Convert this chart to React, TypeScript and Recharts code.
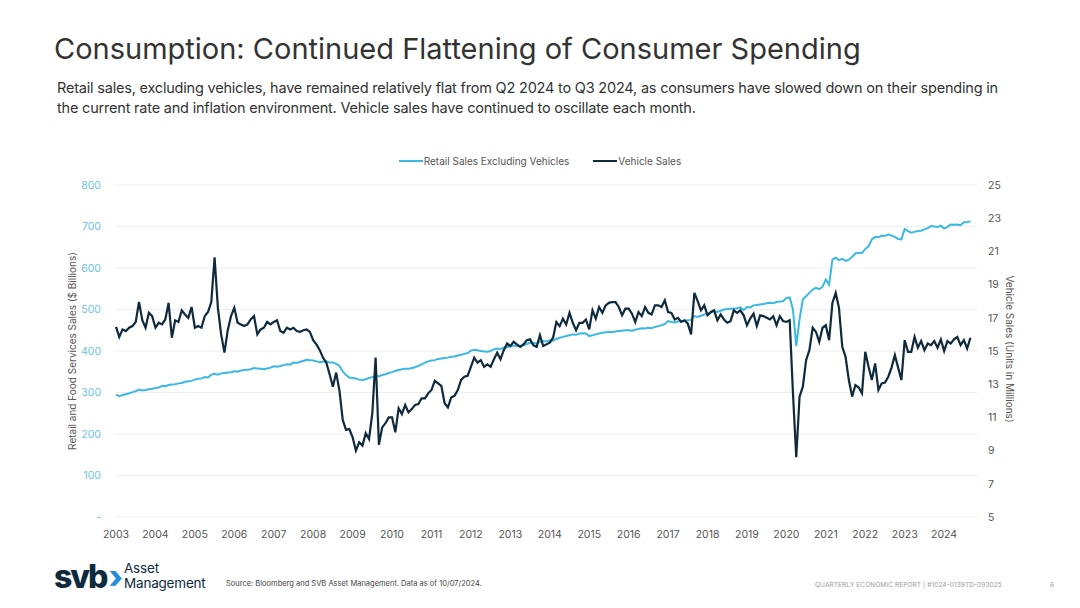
import { LineChart, Line, XAxis, YAxis, CartesianGrid } from "recharts";

// monthly, Jan 2003 - Sep 2024
const startYear = 2003;

const retailSales = [
  295, 291, 294, 296, 298, 301, 303, 307, 305, 306, 308, 309,
  311, 312, 316, 315, 318, 319, 320, 322, 323, 326, 327, 328,
  331, 333, 334, 337, 336, 343, 345, 343, 346, 347, 348, 349,
  351, 350, 353, 354, 355, 356, 359, 358, 357, 356, 358, 360,
  363, 362, 364, 366, 368, 367, 372, 371, 374, 376, 379, 378,
  377, 375, 373, 374, 375, 372, 372, 369, 364, 351, 342, 336,
  335, 334, 331, 330, 332, 335, 337, 340, 339, 342, 344, 347,
  349, 352, 354, 356, 357, 357, 359, 361, 364, 368, 372, 375,
  377, 378, 381, 382, 383, 384, 386, 387, 389, 391, 393, 395,
  401, 403, 402, 400, 399, 398, 400, 404, 406, 405, 408, 409,
  411, 413, 412, 412, 414, 417, 420, 419, 418, 422, 424, 423,
  426, 425, 429, 432, 434, 436, 438, 440, 439, 442, 443, 442,
  436, 438, 440, 442, 444, 445, 446, 446, 447, 448, 449, 450,
  450, 449, 451, 453, 455, 454, 456, 455, 458, 460, 462, 465,
  472, 470, 469, 471, 472, 473, 474, 475, 484, 482, 485, 488,
  490, 492, 496, 494, 497, 500, 501, 502, 502, 503, 505, 499,
  506, 505, 510, 511, 512, 513, 515, 516, 515, 518, 519, 520,
  528, 529, 500, 412, 476, 524, 532, 540, 548, 552, 549, 555,
  572, 560, 620, 625, 619, 622, 617, 620, 627, 635, 637, 636,
  646, 652, 669, 675, 674, 678, 677, 681, 678, 675, 670, 669,
  694, 689, 685, 687, 689, 690, 693, 696, 701, 700, 699, 702,
  695, 699, 705, 704, 705, 703, 710, 710, 713,
];

const vehicleSales = [
  16.45, 15.85, 16.3, 16.2, 16.4, 16.5, 16.75, 17.95, 16.85, 16.4, 17.3, 17.1,
  16.4, 16.7, 16.6, 16.9, 17.9, 15.8, 16.85, 16.75, 17.45, 17.2, 17.0, 17.65,
  16.4, 16.5, 16.4, 17.1, 17.35, 17.95, 20.65, 17.6, 16.0, 14.9, 16.25, 17.1,
  17.6, 16.7, 16.6, 16.5, 16.6, 16.9, 17.1, 16.0, 16.3, 16.4, 16.75, 16.6,
  16.75, 16.85, 16.2, 16.1, 16.4, 16.3, 16.4, 16.2, 16.15, 16.25, 16.3, 16.15,
  15.65, 15.4, 15.05, 14.6, 14.3, 13.6, 12.85, 13.7, 12.6, 10.85, 10.25, 10.3,
  9.8, 9.0, 9.5, 9.3, 10.05, 9.7, 11.25, 14.6, 9.35, 10.4, 10.65, 11.0,
  11.0, 10.1, 11.55, 11.2, 11.75, 11.3, 11.5, 11.75, 11.8, 12.15, 12.15, 12.45,
  12.65, 13.2, 13.05, 12.9, 11.85, 11.6, 12.2, 12.3, 12.65, 13.25, 13.45, 13.5,
  14.05, 14.6, 14.3, 14.45, 14.05, 14.2, 14.05, 14.5, 14.9, 14.5, 15.05, 15.45,
  15.3, 15.55, 15.4, 15.25, 15.4, 15.65, 15.7, 15.35, 15.25, 15.95, 15.3, 15.4,
  15.5, 15.8, 16.75, 16.5, 16.95, 16.6, 17.3, 16.7, 16.25, 16.7, 16.7, 16.9,
  16.3, 17.45, 16.95, 17.65, 17.3, 17.75, 17.9, 17.95, 17.95, 17.65, 17.15, 17.55,
  17.55, 17.25, 16.75, 17.35, 17.1, 17.65, 17.3, 17.2, 17.75, 17.75, 17.65, 18.05,
  17.35, 17.3, 16.9, 17.0, 16.75, 16.85, 16.65, 16.0, 18.5, 18.0, 17.45, 17.75,
  17.15, 17.35, 17.45, 16.85, 17.2, 16.9, 16.7, 16.8, 17.45, 17.3, 17.45, 17.15,
  16.55, 16.95, 17.25, 16.5, 17.15, 17.1, 17.0, 16.9, 17.1, 16.55, 17.1, 16.8,
  16.75, 16.85, 12.45, 8.6, 12.25, 12.85, 14.45, 15.05, 16.4, 16.15, 15.55, 16.4,
  16.55, 15.65, 17.9, 18.5, 17.6, 15.25, 14.65, 13.25, 12.25, 12.95, 12.8, 12.45,
  14.95, 14.05, 13.25, 14.25, 12.65, 13.05, 13.1, 13.45, 14.0, 14.75, 14.0, 13.25,
  15.65, 14.95, 14.95, 15.85, 15.2, 15.6, 15.05, 15.45, 15.35, 15.6, 15.2, 15.7,
  15.0, 15.6, 15.45, 15.7, 15.85, 15.35, 15.65, 15.15, 15.8,
];

const yearTicks = [
  2003, 2004, 2005, 2006, 2007, 2008, 2009, 2010, 2011, 2012, 2013,
  2014, 2015, 2016, 2017, 2018, 2019, 2020, 2021, 2022, 2023, 2024,
];
const leftTicks = [0, 100, 200, 300, 400, 500, 600, 700, 800];
const rightTicks = [5, 7, 9, 11, 13, 15, 17, 19, 21, 23, 25];

const RETAIL = "#3cb9e2";
const VEHICLE = "#0f2a3c";
const FONT = "Inter, 'Open Sans', sans-serif";

const data = retailSales.map((r, i) => ({
  m: i,
  retail: r,
  vehicle: vehicleSales[i],
}));

const legendItems = [
  { label: "Retail Sales Excluding Vehicles", color: RETAIL },
  { label: "Vehicle Sales", color: VEHICLE },
];

export default function App() {
  return (
    <div style={{ position: "absolute", left: 0, top: 0, width: 1080, height: 608, background: "#fff", overflow: "hidden", fontFamily: FONT }}>
      <div style={{ position: "absolute", left: 54, top: 31, fontSize: 29, color: "#333", letterSpacing: 0, whiteSpace: "nowrap" }}>
        Consumption: Continued Flattening of Consumer Spending
      </div>
      <div style={{ position: "absolute", left: 57, top: 78, fontSize: 14.5, lineHeight: "20px", color: "#333", letterSpacing: -0.2, whiteSpace: "nowrap" }}>
        Retail sales, excluding vehicles, have remained relatively flat from Q2 2024 to Q3 2024, as consumers have slowed down on their spending in
        <br />
        the current rate and inflation environment. Vehicle sales have continued to oscillate each month.
      </div>

      <div style={{ position: "absolute", left: 0, top: 155, width: 1080, display: "flex", justifyContent: "center", gap: 24, fontSize: 10, color: "#555" }}>
        {legendItems.map((it) => (
          <div key={it.label} style={{ display: "flex", alignItems: "center" }}>
            <span style={{ display: "inline-block", width: 24, height: 2, background: it.color, marginRight: 1 }} />
            {it.label}
          </div>
        ))}
      </div>

      <div style={{ position: "absolute", left: 0, top: 0 }}>
        <LineChart width={1080} height={608} data={data} margin={{ top: 185, right: 53, bottom: 61, left: 66 }}>
          <CartesianGrid yAxisId="left" vertical={false} stroke="#efefef" />
          <XAxis
            type="number"
            dataKey="m"
            domain={[0, 262]}
            ticks={yearTicks.map((y) => (y - startYear) * 12)}
            tickFormatter={(v) => String(startYear + v / 12)}
            axisLine={false}
            tickLine={false}
            tickSize={0}
            tickMargin={14}
            height={30}
            tick={{ fill: "#555", fontSize: 10.5, fontFamily: FONT }}
          />
          <YAxis
            yAxisId="left"
            domain={[0, 800]}
            ticks={leftTicks}
            tickFormatter={(v) => (v === 0 ? "-" : String(v))}
            axisLine={false}
            tickLine={false}
            tickSize={0}
            tickMargin={15}
            width={50}
            tick={{ fill: "#6cc4e0", fontSize: 10.5, fontFamily: FONT }}
          />
          <YAxis
            yAxisId="right"
            orientation="right"
            domain={[5, 25]}
            ticks={rightTicks}
            axisLine={false}
            tickLine={false}
            tickSize={0}
            tickMargin={11}
            width={50}
            tick={{ fill: "#555", fontSize: 10.5, fontFamily: FONT, textAnchor: "start" }}
          />
          <Line yAxisId="left" type="linear" dataKey="retail" stroke={RETAIL} strokeWidth={2} dot={false} isAnimationActive={false} />
          <Line yAxisId="right" type="linear" dataKey="vehicle" stroke={VEHICLE} strokeWidth={2.2} dot={false} isAnimationActive={false} />
        </LineChart>
      </div>

      <div style={{ position: "absolute", left: 72, top: 351, transform: "translate(-50%, -50%) rotate(-90deg)", fontSize: 10, color: "#555", whiteSpace: "nowrap" }}>
        Retail and Food Services Sales ($ Billions)
      </div>
      <div style={{ position: "absolute", left: 1010, top: 349, transform: "translate(-50%, -50%) rotate(90deg)", fontSize: 10, color: "#555", whiteSpace: "nowrap" }}>
        Vehicle Sales (Units in Millions)
      </div>

      <div style={{ position: "absolute", left: 54, top: 562, display: "flex", alignItems: "center", color: "#0f2a3c" }}>
        <span style={{ fontSize: 32, fontWeight: 800, letterSpacing: -2, lineHeight: "30px" }}>svb</span>
        <span style={{ fontSize: 32, fontWeight: 800, color: "#1f8fd6", margin: "0 3px 0 2px", lineHeight: "30px" }}>›</span>
      </div>
      <div style={{ position: "absolute", left: 124, top: 561, fontSize: 13.5, lineHeight: "15px", color: "#0f2a3c", letterSpacing: -0.2 }}>Asset</div>
      <div style={{ position: "absolute", left: 124, top: 576, fontSize: 13.5, lineHeight: "15px", color: "#0f2a3c", letterSpacing: -0.2 }}>Management</div>
      <div style={{ position: "absolute", left: 226, top: 579, fontSize: 7.5, color: "#444", whiteSpace: "nowrap" }}>
        Source: Bloomberg and SVB Asset Management. Data as of 10/07/2024.
      </div>
      <div style={{ position: "absolute", left: 815, top: 581, fontSize: 6.5, color: "#999", whiteSpace: "nowrap", letterSpacing: 0.1 }}>
        QUARTERLY ECONOMIC REPORT | #1024-0139TD-093025
      </div>
      <div style={{ position: "absolute", left: 1050, top: 581, fontSize: 6.5, color: "#999" }}>6</div>
    </div>
  );
}
